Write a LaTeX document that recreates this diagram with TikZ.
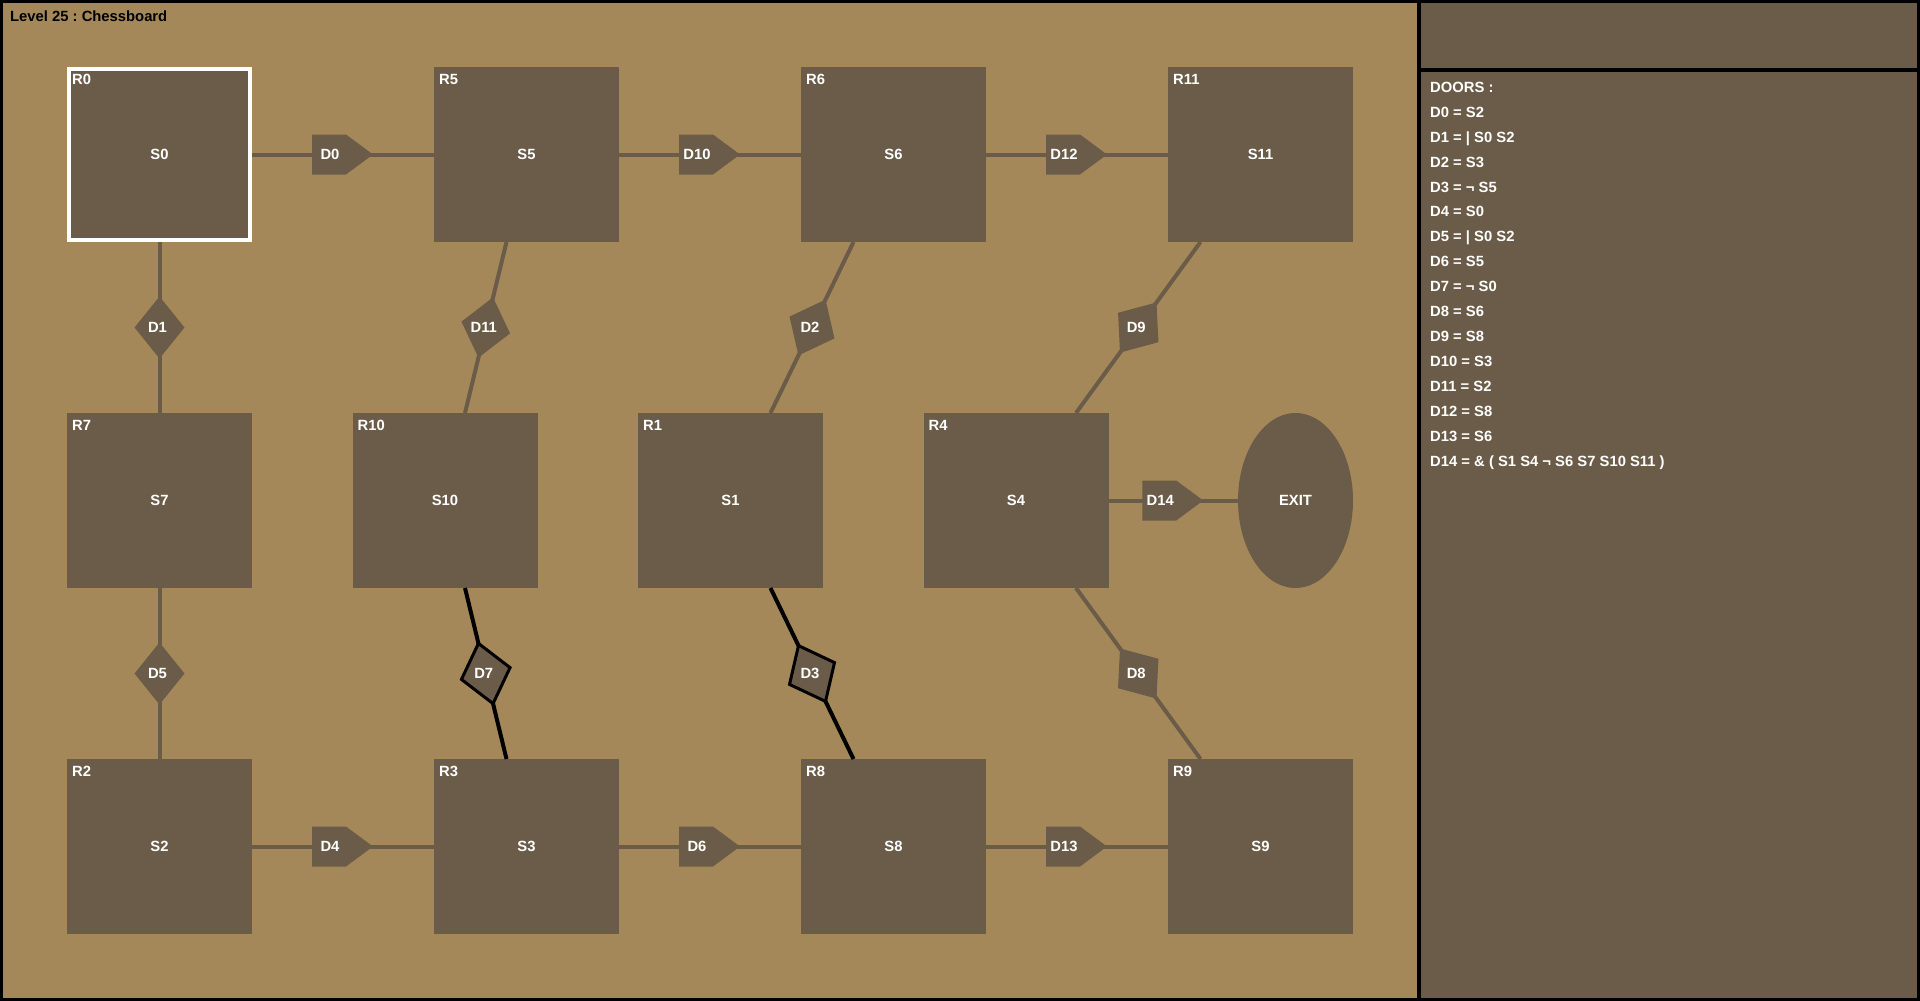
\documentclass[tikz,border=0pt]{standalone}
\usepackage{fontspec}
\setmainfont{Liberation Sans}
\usetikzlibrary{shapes.geometric,shapes.symbols}
\definecolor{boardtan}{HTML}{A5885A}
\definecolor{roomdark}{HTML}{6A5C48}

\begin{document}
\begin{tikzpicture}[x=1pt,y=-1pt,font=\fontsize{14.8}{17}\selectfont\bfseries\frenchspacing,
  room/.style={fill=roomdark,text=white,minimum width=185pt,minimum height=175pt,
    inner sep=0pt,outer sep=0pt},
  exitroom/.style={ellipse,fill=roomdark,text=white,minimum width=115pt,
    minimum height=175pt,inner sep=0pt,outer sep=0pt},
  roomtag/.style={anchor=base west,text=white,inner sep=0pt},
  conn/.style={roomdark,line width=4pt},
  lockedconn/.style={black,line width=4pt},
  doorgem/.style={diamond,fill=roomdark,minimum width=62pt,minimum height=50pt,
    inner sep=0pt,outer sep=0pt,sloped},
  lockedgem/.style={doorgem,draw=black,line width=3pt},
  doorsign/.style={signal,signal from=nowhere,signal to=east,signal pointer angle=73,
    fill=roomdark,minimum width=61pt,minimum height=40pt,inner sep=0pt,xshift=-14pt},
  doortag/.style={text=white,inner sep=0pt},
  listline/.style={anchor=base west,text=white,inner sep=0pt}]

  % Screen frame: board on the left, side panels on the right.
  \fill[black] (0,0) rectangle (1920,1001);
  \fill[boardtan] (3,3) rectangle (1417,998);
  \fill[roomdark] (1421,3) rectangle (1917,68);
  \fill[roomdark] (1421,72) rectangle (1917,998);
  \node[anchor=base west,inner sep=0pt] at (10,21.6) {Level 25 : Chessboard};

  % Rooms R\i holding switch S\i.
  \foreach \i/\x/\y in {0/159.5/154.5,5/526.5/154.5,6/893.5/154.5,11/1260.5/154.5,
      7/159.5/500.5,10/445/500.5,1/730.5/500.5,4/1016/500.5,
      2/159.5/846.5,3/526.5/846.5,8/893.5/846.5,9/1260.5/846.5} {
    \node[room] (R\i) at (\x,\y) {S\i};
    \node[roomtag] at ([xshift=5pt,yshift=-17.6pt]R\i.north west) {R\i};
  }
  \node[exitroom] (EXIT) at (1295.5,500.5) {EXIT};

  % Current room.
  \draw[white,line width=4pt] ([shift={(2pt,-2pt)}]R0.north west)
    rectangle ([shift={(-2pt,2pt)}]R0.south east);

  % Horizontal doors.
  \draw[conn] (R0.east) -- node[doorsign] (D0) {} (R5.west);
  \draw[conn] (R5.east) -- node[doorsign] (D10) {} (R6.west);
  \draw[conn] (R6.east) -- node[doorsign] (D12) {} (R11.west);
  \draw[conn] (R2.east) -- node[doorsign] (D4) {} (R3.west);
  \draw[conn] (R3.east) -- node[doorsign] (D6) {} (R8.west);
  \draw[conn] (R8.east) -- node[doorsign] (D13) {} (R9.west);
  \draw[conn] (R4.east) -- node[doorsign] (D14) {} (EXIT.west);
  \foreach \d in {0,10,12,4,6,13,14}
    \node[doortag] at ([xshift=1pt]D\d.center) {D\d};

  % Vertical and slanted doors (black ones are locked).
  \draw[conn] (R0.south) -- node[doorgem] (D1) {} (R7.north);
  \draw[conn] (R7.south) -- node[doorgem] (D5) {} (R2.north);
  \draw[conn] ([xshift=-20pt]R5.south) -- node[doorgem] (D11) {} ([xshift=20pt]R10.north);
  \draw[lockedconn] ([xshift=20pt]R10.south) -- node[lockedgem] (D7) {} ([xshift=-20pt]R3.north);
  \draw[conn] ([xshift=-40pt]R6.south) -- node[doorgem] (D2) {} ([xshift=40pt]R1.north);
  \draw[lockedconn] ([xshift=40pt]R1.south) -- node[lockedgem] (D3) {} ([xshift=-40pt]R8.north);
  \draw[conn] ([xshift=-60pt]R11.south) -- node[doorgem] (D9) {} ([xshift=60pt]R4.north);
  \draw[conn] ([xshift=60pt]R4.south) -- node[doorgem] (D8) {} ([xshift=-60pt]R9.north);
  \foreach \d in {1,5,11,7,2,3,9,8}
    \node[doortag] at ([xshift=-2pt]D\d.center) {D\d};

  % Door conditions list.
  \foreach \k/\txt in {0/{DOORS :},1/{D0 = S2},2/{D1 = | S0 S2},3/{D2 = S3},
      4/{D3 = ¬ S5},5/{D4 = S0},6/{D5 = | S0 S2},7/{D6 = S5},8/{D7 = ¬ S0},
      9/{D8 = S6},10/{D9 = S8},11/{D10 = S3},12/{D11 = S2},13/{D12 = S8},
      14/{D13 = S6},15/{D14 = \& ( S1 S4 ¬ S6 S7 S10 S11 )}} {
    \pgfmathsetmacro{\yy}{92.3+24.93*\k}
    \node[listline] at (1430,\yy) {\txt};
  }
\end{tikzpicture}
\end{document}
